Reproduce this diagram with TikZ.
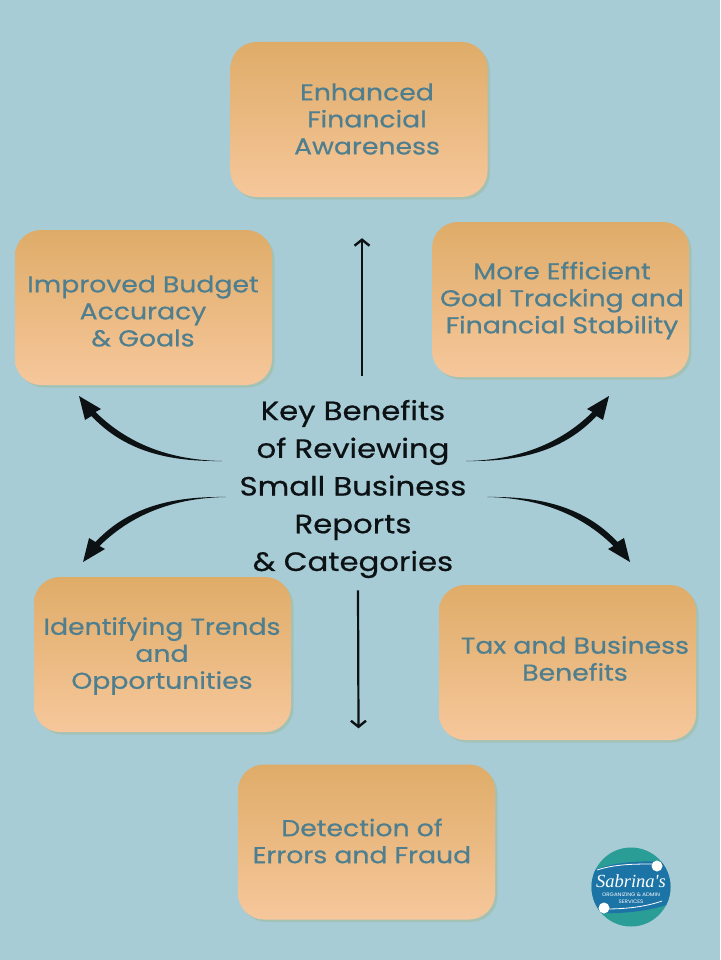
\documentclass[tikz,border=0pt]{standalone}
\usepackage{fontspec}
\usetikzlibrary{shadows,arrows.meta}
\setmainfont[FakeStretch=1.16,FakeBold=0.6]{Poppins}
\newfontfamily\logofont{Liberation Serif}
\newfontfamily\tagfont[FakeStretch=1.1]{Poppins}
\definecolor{sky}{HTML}{A8CCD6}
\definecolor{boxtop}{HTML}{DFAC68}
\definecolor{boxbottom}{HTML}{F6C79B}
\definecolor{boxshade}{HTML}{A3C2B6}
\definecolor{slate}{HTML}{4F7F8F}
\definecolor{inkblack}{HTML}{0C1114}
\definecolor{logoteal}{HTML}{2A9D96}
\definecolor{logoblue}{HTML}{1C74A6}
\tikzset{
  card/.style={minimum width=257pt, minimum height=155pt, rounded corners=26pt,
    top color=boxtop, bottom color=boxbottom,
    drop shadow={shadow xshift=2.5pt, shadow yshift=-2.5pt, fill=boxshade, opacity=1}},
  cardtext/.style={align=center, text=slate, inner sep=0pt,
    font=\fontsize{23}{27}\selectfont},
  keytext/.style={align=center, text=inkblack, inner sep=0pt,
    font=\fontsize{26.5}{37.7}\selectfont},
  straight/.style={draw=inkblack, line width=2.2pt, -{Straight Barb[length=6pt,width=15pt,line width=2.4pt]}},
  pics/bentarrow/.style={code={
    \fill[inkblack] (0, 0) .. controls (-45, 0.6) and (-94, -6) .. (-130.5, -45)
      to (-137, -41) to (-143, -65) to (-121, -52) to (-126.5, -49)
      .. controls (-90, -13) and (-45, -0.8) .. (0, 0);
  }}
}
\begin{document}
\begin{tikzpicture}[x=1pt, y=-1pt]
      \useasboundingbox[fill=sky] (0, 0) rectangle (720, 960);
      \node[card] (enhanced) at (359, 119.5) {};
      \node[card] (budget) at (143.5, 307.5) {};
      \node[card] (tracking) at (560.5, 299.5) {};
      \node[card] (trends) at (162.5, 654.5) {};
      \node[card] (tax) at (567.5, 662.5) {};
      \node[card] (errors) at (366.5, 842) {};
      \node[cardtext] (enhancedtext) at (367, 119) {Enhanced\\Financial\\Awareness};
      \node[cardtext] (budgettext) at (143, 311) {Improved Budget\\Accuracy\\\& Goals};
      \node[cardtext] (trackingtext) at (562, 300.5) {More Efficient\\Goal Tracking and\\Financial Stability};
      \node[cardtext] (trendstext) at (162, 656) {Identifying Trends\\and\\Opportunities};
      \node[cardtext] (taxtext) at (575, 658.5) {Tax and Business\\Benefits};
      \node[cardtext] (errorstext) at (362, 841) {Detection of\\Errors and Fraud};
      \node[keytext] (key) at (353, 489) {Key Benefits\\of Reviewing\\Small Business\\Reports\\\& Categories};
      \draw[straight] ([xshift=9pt, yshift=24pt]key.north) to ([xshift=3pt, yshift=-41pt]enhanced.south);
      \draw[straight] ([xshift=5pt, yshift=-12pt]key.south) to ([xshift=-8pt, yshift=36pt]errors.north);
      \coordinate (upleft) at (222, 461);
      \coordinate (upright) at (466, 461);
      \coordinate (downleft) at (226, 497);
      \coordinate (downright) at (487, 497);
      \pic at (upleft) {bentarrow};
      \pic[xscale=-1] at (upright) {bentarrow};
      \pic[yscale=-1] at (downleft) {bentarrow};
      \pic[scale=-1] at (downright) {bentarrow};
      \fill[logoteal] (631, 887) circle (39.5);
      \begin{scope}
        \clip (631, 887) circle (39.5);
        \fill[logoblue] (590, 872) .. controls (610, 862) and (640, 860) .. (675, 862)
          to (675, 902) .. controls (650, 912) and (615, 915) .. (590, 912) -- cycle;
      \end{scope}
      \draw[white, line width=0.8pt] (597, 870) .. controls (615, 864) and (635, 864) .. (654, 864);
      \draw[white, line width=0.8pt] (605, 909) .. controls (625, 909) and (645, 907) .. (662, 901);
      \fill[white] (657, 866) circle (5.5);
      \fill[white] (604, 908) circle (5.5);
      \node[text=white, inner sep=0pt, font=\logofont\itshape\fontsize{18.5}{19}\selectfont] (logoname) at (631, 881) {Sabrina's};
      \node[text=white, inner sep=0pt, align=center, font=\tagfont\fontsize{5}{7.5}\selectfont] (logotag) at (631, 898) {ORGANIZING \& ADMIN\\SERVICES};
    \end{tikzpicture}
\end{document}
